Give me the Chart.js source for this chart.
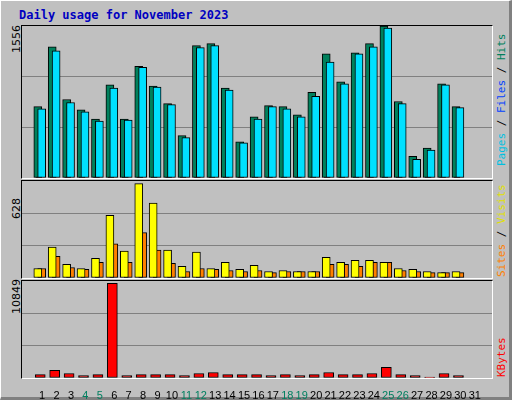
<!DOCTYPE html>
<html><head><meta charset="utf-8">
<script src="https://cdn.jsdelivr.net/npm/chart.js@4"></script>
<style>
body{margin:0;}
#f{position:absolute;left:0;top:0;width:508px;height:396px;background:#C0C0C0;border-top:1px solid #fff;border-left:1px solid #fff;border-right:3px solid #808080;border-bottom:3px solid #808080;font-family:"DejaVu Sans Mono",monospace;}
.p{position:absolute;left:20px;width:470px;border-top:1px solid #000;border-left:1px solid #000;border-right:1px solid #fff;border-bottom:1px solid #fff;}
.r{position:absolute;transform-origin:0 0;transform:rotate(-90deg);white-space:nowrap;font-size:11px;}
</style></head><body>
<div id="f">
<div style="position:absolute;left:18px;top:7px;color:#0000c0;font-weight:bold;font-size:12px;">Daily usage for November 2023</div>
<div class="p" style="top:24px;height:152px;"></div>
<div class="p" style="top:179px;height:97px;"></div>
<div class="p" style="top:279px;height:97px;"></div>
<div class="r" style="left:9px;top:52px;font-family:'DejaVu Sans';">1556</div>
<div class="r" style="left:9px;top:218px;font-family:'DejaVu Sans';">628</div>
<div class="r" style="left:9px;top:313px;font-family:'DejaVu Sans';">10849</div>
<div class="r" style="left:494px;top:165px;"><span style="color:#00c0e0">Pages</span> / <span style="color:#0040ff">Files</span> / <span style="color:#00805c">Hits</span></div>
<div class="r" style="left:494px;top:276px;"><span style="color:#ff8000">Sites</span> / <span style="color:#e0e000">Visits</span></div>
<div class="r" style="left:494px;top:376px;"><span style="color:#ff0000">KBytes</span></div>
<div style="position:absolute;left:21px;top:25px;width:470px;height:152px;"><canvas id="c1"></canvas></div>
<div style="position:absolute;left:21px;top:180px;width:470px;height:97px;"><canvas id="c2"></canvas></div>
<div style="position:absolute;left:21px;top:280px;width:470px;height:118px;"><canvas id="c3"></canvas></div>
</div>
<script>
const days=[1,2,3,4,5,6,7,8,9,10,11,12,13,14,15,16,17,18,19,20,21,22,23,24,25,26,27,28,29,30,31];
const dayLabels=days.map(String);
const weekend=[4,5,11,12,18,19,25,26];
const hits=[730,1344,804,699,603,953,603,1143,942,762,434,1355,1376,921,370,625,741,730,646,878,1270,984,1281,1376,1556,783,222,307,963,730,0];
const files=[709,1302,773,677,582,921,593,1133,931,751,413,1334,1355,900,360,603,730,709,625,836,1186,963,1270,1344,1535,762,191,286,953,720,0];
const pages=[30,35,35,30,40,50,20,30,30,55,40,20,30,30,30,50,30,30,30,30,50,30,30,30,50,30,40,30,20,30,0];
const visits=[63,206,91,63,131,417,179,628,499,186,77,172,63,104,57,84,43,50,43,43,138,104,118,118,104,63,57,43,36,43,0];
const sites=[63,145,70,57,104,227,104,302,186,97,43,63,57,50,43,50,36,43,43,43,91,91,77,104,104,50,43,36,36,36,0];
const kbytes=[396,871,515,277,396,10849,277,396,396,396,277,515,634,396,396,396,277,396,277,396,634,396,396,515,1228,396,277,119,515,277,0];
const maxes=[1556,646,11126];

function ds(vals,off,color,w){return {data:days.map((d,i)=>({x:d+off,y:vals[i]})),backgroundColor:color,borderColor:'#000',borderWidth:1,barThickness:w,borderSkipped:false,grouped:false};}
function mk(id,sets,max,xl){
  new Chart(document.getElementById(id),{type:'bar',data:{datasets:sets},
  options:{responsive:true,maintainAspectRatio:false,animation:false,layout:{padding:0},
   plugins:{legend:{display:false},tooltip:{enabled:false}},
   scales:{
    x:{type:'linear',min:0.13,max:31.67,display:xl,grid:{display:false},border:{display:false},
       ticks:{stepSize:1,includeBounds:false,autoSkip:false,maxRotation:0,padding:3,font:{family:'Liberation Sans',size:11},
         color:c=>weekend.includes(c.tick.value)?'#008060':'#000',
         callback:v=>days.includes(v)?dayLabels[v-1]:''},
       afterFit:s=>{s.height=xl?21:0;}},
    y:{min:0,max:max,afterFit:s=>{s.width=0;},border:{display:false},
       ticks:{display:false,stepSize:max/3},
       grid:{drawTicks:false,color:c=>(c.tick.value>0&&c.tick.value<max-1)?'#808080':'rgba(0,0,0,0)'}}
   }}});
}
mk('c1',[ds(pages,-0.37,'#0040ff',2),ds(hits,-0.3,'#00805c',8),ds(files,-0.03,'#00e0ff',8)].reverse(),maxes[0],false);
mk('c2',[ds(visits,-0.3,'#ffff00',8),ds(sites,-0.03,'#ff8000',8)],maxes[1],false);
mk('c3',[ds(kbytes,-0.13,'#ff0000',10)],maxes[2],true);
</script></body></html>
